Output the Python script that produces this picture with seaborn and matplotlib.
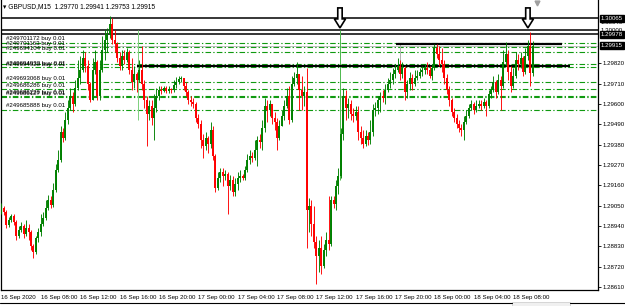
import numpy as np
import pandas as pd
import seaborn as sns
import matplotlib.pyplot as plt
from matplotlib.patches import Polygon, Rectangle
from matplotlib.lines import Line2D

# ---- data (GBPUSD M15, 16 Sep 04:00 -> 18 Sep) ----
title_text = "\u25be GBPUSD,M15  1.29770 1.29941 1.29753 1.29915"
first_open = 1.29016

close = [
    1.29038, 1.29016, 1.28946, 1.28973, 1.28994, 1.28962, 1.28886, 1.28919, 1.28940, 1.28897,
    1.28930, 1.28908, 1.28832, 1.28800, 1.28875, 1.28908, 1.28951, 1.28984, 1.29038, 1.29081,
    1.29054, 1.29135, 1.29243, 1.29297, 1.29449, 1.29416, 1.29514, 1.29579, 1.29644, 1.29600,
    1.29687, 1.29741, 1.29784, 1.29849, 1.29806, 1.29709, 1.29622, 1.29784, 1.29828, 1.29644,
    1.29784, 1.29893, 1.29947, 1.29979, 1.30033, 1.29947, 1.29925, 1.29849, 1.29806, 1.29860,
    1.29838, 1.29882, 1.29784, 1.29719, 1.29763, 1.29730, 1.29784, 1.29709, 1.29622, 1.29546,
    1.29590, 1.29525, 1.29579, 1.29644, 1.29676, 1.29671, 1.29687, 1.29671, 1.29682, 1.29676,
    1.29703, 1.29719, 1.29736, 1.29741, 1.29698, 1.29665, 1.29622, 1.29611, 1.29600, 1.29525,
    1.29492, 1.29406, 1.29373, 1.29416, 1.29384, 1.29460, 1.29319, 1.29146, 1.29200, 1.29232,
    1.29211, 1.29222, 1.29157, 1.29189, 1.29124, 1.29168, 1.29200, 1.29211, 1.29200, 1.29243,
    1.29297, 1.29319, 1.29308, 1.29351, 1.29406, 1.29395, 1.29470, 1.29590, 1.29568, 1.29600,
    1.29525, 1.29503, 1.29416, 1.29481, 1.29535, 1.29590, 1.29644, 1.29514, 1.29709, 1.29741,
    1.29763, 1.29676, 1.29644, 1.29665, 1.29027, 1.29048, 1.28951, 1.28854, 1.28778, 1.28821,
    1.28724, 1.28811, 1.28865, 1.28843, 1.29081, 1.29059, 1.29157, 1.29211, 1.29438, 1.29644,
    1.29579, 1.29600, 1.29546, 1.29535, 1.29557, 1.29449, 1.29416, 1.29384, 1.29427, 1.29406,
    1.29449, 1.29568, 1.29579, 1.29622, 1.29644, 1.29633, 1.29676, 1.29709, 1.29730, 1.29763,
    1.29784, 1.29806, 1.29763, 1.29795, 1.29665, 1.29709, 1.29741, 1.29709, 1.29741, 1.29752,
    1.29773, 1.29784, 1.29795, 1.29784, 1.29752, 1.29795, 1.29903, 1.29871, 1.29838, 1.29817,
    1.29741, 1.29676, 1.29622, 1.29557, 1.29525, 1.29492, 1.29470, 1.29460, 1.29503, 1.29535,
    1.29579, 1.29600, 1.29568, 1.29590, 1.29600, 1.29590, 1.29611, 1.29590, 1.29655, 1.29676,
    1.29719, 1.29665, 1.29730, 1.29698, 1.29828, 1.29871, 1.29773, 1.29698, 1.29752, 1.29838,
    1.29817, 1.29849, 1.29773, 1.29860, 1.29914, 1.29770, 1.29915,
]
high = [
    1.29065, 1.29048, 1.29027, 1.28989, 1.29005, 1.29005, 1.28973, 1.28940, 1.28962, 1.28951,
    1.28973, 1.28951, 1.28919, 1.28843, 1.28886, 1.28930, 1.29005, 1.29016, 1.29081, 1.29108,
    1.29103, 1.29173, 1.29276, 1.29351, 1.29481, 1.29470, 1.29557, 1.29622, 1.29687, 1.29665,
    1.29730, 1.29838, 1.29860, 1.29893, 1.29882, 1.29838, 1.29719, 1.29849, 1.29893, 1.29838,
    1.29838, 1.29968, 1.30001, 1.30012, 1.30076, 1.30066, 1.30001, 1.29936, 1.29882, 1.29893,
    1.29893, 1.29903, 1.29893, 1.29849, 1.29806, 1.29773, 1.29838, 1.29914, 1.29730, 1.29644,
    1.29622, 1.29622, 1.29655, 1.29687, 1.29698, 1.29698, 1.29698, 1.29698, 1.29698, 1.29687,
    1.29730, 1.29746, 1.29752, 1.29752, 1.29741, 1.29719, 1.29676, 1.29644, 1.29633, 1.29611,
    1.29546, 1.29514, 1.29438, 1.29449, 1.29427, 1.29503, 1.29481, 1.29330, 1.29232, 1.29254,
    1.29254, 1.29243, 1.29232, 1.29216, 1.29211, 1.29200, 1.29232, 1.29243, 1.29222, 1.29265,
    1.29330, 1.29351, 1.29341, 1.29406, 1.29427, 1.29438, 1.29514, 1.29633, 1.29622, 1.29622,
    1.29600, 1.29557, 1.29525, 1.29514, 1.29568, 1.29622, 1.29687, 1.29698, 1.29752, 1.29773,
    1.29828, 1.29763, 1.29752, 1.29698, 1.29795, 1.29092, 1.29081, 1.29048, 1.28886, 1.28865,
    1.28886, 1.28843, 1.28908, 1.29103, 1.29103, 1.29103, 1.29189, 1.29254, 1.29470, 1.29687,
    1.29676, 1.29633, 1.29622, 1.29579, 1.29590, 1.29590, 1.29481, 1.29460, 1.29460, 1.29449,
    1.29514, 1.29600, 1.29611, 1.29644, 1.29665, 1.29676, 1.29709, 1.29741, 1.29773, 1.29795,
    1.29817, 1.29849, 1.29838, 1.29828, 1.29806, 1.29730, 1.29773, 1.29763, 1.29784, 1.29784,
    1.29795, 1.29806, 1.29817, 1.29828, 1.29806, 1.29817, 1.29925, 1.29925, 1.29914, 1.29903,
    1.29838, 1.29763, 1.29698, 1.29633, 1.29579, 1.29546, 1.29514, 1.29492, 1.29535, 1.29568,
    1.29600, 1.29622, 1.29611, 1.29622, 1.29622, 1.29622, 1.29633, 1.29622, 1.29676, 1.29698,
    1.29752, 1.29730, 1.29763, 1.29752, 1.29893, 1.29936, 1.29893, 1.29806, 1.29795, 1.29882,
    1.29871, 1.29882, 1.29860, 1.29903, 1.29947, 1.29990, 1.29941,
]
low = [
    1.29005, 1.28999, 1.28930, 1.28935, 1.28962, 1.28946, 1.28865, 1.28875, 1.28908, 1.28875,
    1.28886, 1.28865, 1.28811, 1.28767, 1.28789, 1.28854, 1.28886, 1.28940, 1.28973, 1.29027,
    1.29038, 1.29043, 1.29124, 1.29232, 1.29287, 1.29395, 1.29406, 1.29492, 1.29568, 1.29557,
    1.29590, 1.29676, 1.29709, 1.29773, 1.29773, 1.29676, 1.29611, 1.29622, 1.29763, 1.29622,
    1.29622, 1.29773, 1.29838, 1.29882, 1.29957, 1.29925, 1.29882, 1.29828, 1.29784, 1.29784,
    1.29817, 1.29828, 1.29763, 1.29676, 1.29687, 1.29665, 1.29719, 1.29676, 1.29579, 1.29373,
    1.29514, 1.29487, 1.29406, 1.29557, 1.29622, 1.29655, 1.29665, 1.29660, 1.29660, 1.29660,
    1.29665, 1.29687, 1.29709, 1.29719, 1.29676, 1.29644, 1.29600, 1.29590, 1.29579, 1.29503,
    1.29470, 1.29362, 1.29308, 1.29351, 1.29335, 1.29362, 1.29297, 1.29124, 1.29135, 1.29178,
    1.29157, 1.29189, 1.29005, 1.29135, 1.29103, 1.29103, 1.29135, 1.29178, 1.29189, 1.29189,
    1.29232, 1.29276, 1.29287, 1.29297, 1.29265, 1.29362, 1.29351, 1.29449, 1.29503, 1.29535,
    1.29492, 1.29460, 1.29351, 1.29406, 1.29481, 1.29514, 1.29579, 1.29492, 1.29503, 1.29698,
    1.29709, 1.29568, 1.29568, 1.29590, 1.28821, 1.28908, 1.28886, 1.28821, 1.28627, 1.28692,
    1.28681, 1.28713, 1.28778, 1.28811, 1.28832, 1.29038, 1.29027, 1.29113, 1.29200, 1.29406,
    1.29514, 1.29525, 1.29514, 1.29503, 1.29514, 1.29406, 1.29384, 1.29362, 1.29373, 1.29379,
    1.29384, 1.29427, 1.29535, 1.29546, 1.29557, 1.29611, 1.29600, 1.29665, 1.29687, 1.29709,
    1.29741, 1.29773, 1.29730, 1.29741, 1.29622, 1.29633, 1.29676, 1.29676, 1.29698, 1.29730,
    1.29741, 1.29752, 1.29763, 1.29763, 1.29741, 1.29730, 1.29784, 1.29849, 1.29806, 1.29773,
    1.29709, 1.29655, 1.29590, 1.29535, 1.29503, 1.29470, 1.29449, 1.29427, 1.29406, 1.29492,
    1.29525, 1.29568, 1.29546, 1.29557, 1.29579, 1.29568, 1.29579, 1.29535, 1.29579, 1.29633,
    1.29665, 1.29633, 1.29655, 1.29568, 1.29687, 1.29806, 1.29730, 1.29665, 1.29687, 1.29741,
    1.29784, 1.29795, 1.29752, 1.29763, 1.29838, 1.29698, 1.29753,
]

time_labels = ["16 Sep 2020", "16 Sep 08:00", "16 Sep 12:00", "16 Sep 16:00", "16 Sep 20:00",
               "17 Sep 00:00", "17 Sep 04:00", "17 Sep 08:00", "17 Sep 12:00", "17 Sep 16:00",
               "17 Sep 20:00", "18 Sep 00:00", "18 Sep 04:00", "18 Sep 08:00"]
bars_per_label = 16

price_ticks = [1.29820, 1.29710, 1.29600, 1.29490, 1.29380, 1.29270,
               1.29160, 1.29050, 1.28940, 1.28830, 1.28720, 1.28610]
boxed_prices = [1.30065, 1.29978, 1.29915]
faint_prices = [1.30040, 1.30000]

order_tickets = ["#249701172", "#249701163", "#249694104", "#249694933", "#249694920",
                 "#249693068", "#249686286", "#249686226", "#249686127", "#249685888"]
order_prices = [1.29933, 1.29909, 1.29882, 1.29817, 1.29798,
                1.29719, 1.29679, 1.29644, 1.29636, 1.29568]
order_label_prices = [1.29952, 1.29930, 1.29903, 1.29817, 1.29812,
                      1.29736, 1.29698, 1.29660, 1.29655, 1.29590]

hline_prices = [1.30065, 1.30000, 1.29978]
bid_price = 1.29915
segments = [(55.0, 231.0, 1.29806), (160.5, 228.0, 1.29925)]     # start bar, end bar, price
vlines = [(55.5, 1.30001, 1.29514, "#7ccf7c"), (137.6, 1.30001, 1.29189, "#4cb84c"),
          (162.0, 1.29925, 1.29806, "#b0b0b0")]
arrow_bars = [137.6, 214.0]
arrow_tip = 1.30012

# ---- build frame ----
bars = pd.DataFrame({"close": close, "high": high, "low": low})
bars["open"] = [first_open] + close[:-1]
bars["bar"] = np.arange(len(bars))
bars["up"] = bars["close"] >= bars["open"]

sns.set_theme(style="white")
plt.rcParams["font.family"] = ["Liberation Sans", "DejaVu Sans"]
fs = 4.4

fig = plt.figure(figsize=(6.25, 3.06), dpi=100)
ax = fig.add_axes([1 / 625, 16 / 306, 597 / 625, 290 / 306])
ax.set_xlim(-0.2, 242.5)
ax.set_ylim(1.28594, 1.30163)

# horizontal levels
for p in hline_prices:
    ax.axhline(p, color="black", lw=1.1, zorder=2)
ax.axhline(bid_price, color="#c0c0c0", lw=0.7, zorder=2)
for p in order_prices:
    ax.axhline(p, color="#109a10", lw=0.8, dashes=(5, 2, 1.2, 2), zorder=2)
for x0, x1, p in segments:
    ax.hlines(p, x0, x1, color="black", lw=1.6, zorder=3)
for x, y0, y1, c in vlines:
    ax.vlines(x, y1, y0, color=c, lw=0.7, zorder=2)

# candles
for up, color in [(True, "#008000"), (False, "#ff0000")]:
    sub = bars[bars["up"] == up]
    ax.vlines(sub["bar"], sub["low"], sub["high"], color=color, lw=0.65, zorder=4)
    ax.vlines(sub["bar"], sub["open"], sub["close"], color=color, lw=1.4, zorder=5)

# order labels
for t, p in zip(order_tickets, order_label_prices):
    ax.text(1.8, p, f"{t} buy 0.01", fontsize=fs, color="black", va="center", ha="left", zorder=6)

# down arrows
bx, by = 2.46, 18485.0   # px per bar, px per price unit
for xb in arrow_bars:
    sw, hw = 2.2 / bx, 5.6 / bx
    tip = arrow_tip
    head = tip + 9 / by
    top = tip + 20 / by
    pts = [(xb - sw, top), (xb + sw, top), (xb + sw, head), (xb + hw, head),
           (xb, tip), (xb - hw, head), (xb - sw, head)]
    ax.add_patch(Polygon(pts, closed=True, facecolor="white", edgecolor="black",
                         lw=1.2, zorder=7, clip_on=False))

ax.plot([217.7], [1.30148], marker="v", color="#a0a0a0", ms=3.5, zorder=7)

ax.text(0.004, 0.976, title_text, transform=ax.transAxes, fontsize=fs + 0.4,
        va="center", ha="left", color="black")

# axes styling
ax.spines["top"].set_visible(False)
for s in ["left", "right", "bottom"]:
    ax.spines[s].set_color("black")
    ax.spines[s].set_linewidth(0.9)
ax.yaxis.tick_right()
ax.set_yticks(price_ticks)
ax.set_yticklabels([f"{p:.5f}" for p in price_ticks], fontsize=fs)
ax.set_xticks([i * bars_per_label for i in range(len(time_labels))])
ax.set_xticklabels(time_labels, fontsize=fs, ha="left")
ax.tick_params(axis="both", length=2, width=0.6, pad=1.5, colors="black")
ax.grid(False)

span = 1.30163 - 1.28594
for p in faint_prices:
    ax.text(1.005, (p - 1.28594) / span, f"{p:.5f}", transform=ax.transAxes,
            fontsize=fs, va="center", ha="left", color="black", zorder=8, clip_on=False)
for p in boxed_prices:
    ax.text(1.005, (p - 1.28594) / span, f"{p:.5f}", transform=ax.transAxes,
            fontsize=fs, va="center", ha="left", color="white", zorder=9, clip_on=False,
            bbox=dict(boxstyle="square,pad=0.15", fc="black", ec="black"))

# bottom window border
fig.add_artist(Line2D([0, 512 / 625], [3 / 306, 3 / 306], color="black", lw=0.8))
fig.add_artist(Line2D([570 / 625, 1], [3 / 306, 3 / 306], color="black", lw=0.8))
fig.add_artist(Rectangle((512 / 625, 0), 58 / 625, 4 / 306, fc="#f0f0f0", ec="#c8c8c8", lw=0.5))

fig.savefig("out.png", dpi=100, facecolor="white")
